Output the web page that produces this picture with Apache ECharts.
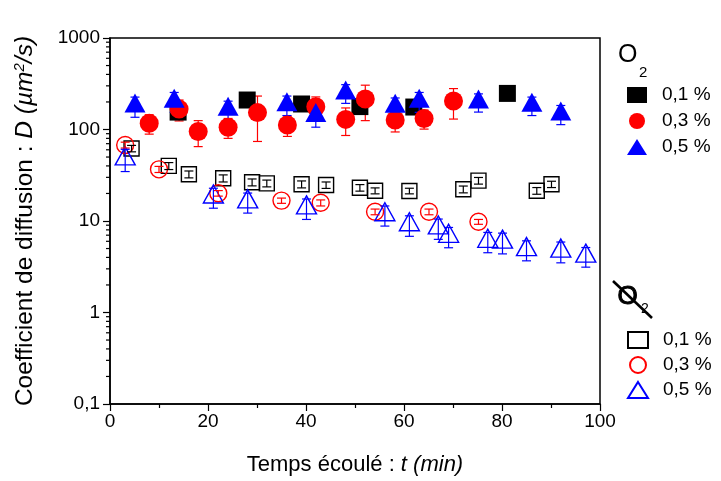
<!DOCTYPE html>
<html>
<head>
<meta charset="utf-8">
<script src="https://cdn.jsdelivr.net/npm/echarts@6/dist/echarts.min.js"></script>
<style>html,body{margin:0;padding:0;background:#fff}#c{width:721px;height:481px}</style>
</head>
<body>
<div id="c"></div>
<script>
// ---- Data ----
// With O2 (filled markers)
const t_sq_f = [13.9, 28, 39.1, 51, 62, 81.1];
const D_sq_f = [155, 210, 190, 178, 176, 248];
const e_sq_f = [20, 10, 10, 20, 20, 10];

const t_ci_f = [8, 14.1, 18, 24.1, 30.1, 36.2, 42, 48.1, 52.1, 58.2, 64.1, 70.1];
const D_ci_f = [117, 167, 95, 106, 153, 112, 177, 129, 215, 127, 132, 205];
const e_ci_f = [28, 43, 30, 26, 79, 28, 50, 43, 90, 33, 31, 75];

// triangle values are read at the triangle's centroid
const t_tr_f = [5.1, 13.1, 24.1, 36.1, 42, 48.1, 58.2, 63.1, 75.2, 86.1, 92];
const D_tr_f = [181, 204, 166, 187, 142, 251, 179, 204, 200, 184, 148];
const e_tr_f = [45, 50, 38, 45, 36, 58, 42, 50, 45, 42, 35];

// Without O2 (open markers)
const t_sq_o = [4.4, 12, 16.1, 23.1, 29, 32, 39.1, 44.1, 51, 54.1, 61.1, 72.1, 75.2, 87.1, 90.1];
const D_sq_o = [62, 40, 32.4, 29.3, 26.5, 25.8, 25.2, 24.7, 23.1, 21.4, 21.3, 22.2, 27.6, 21.4, 25.2];
const e_sq_o = [5, 3.5, 2.8, 2.6, 2.3, 2.2, 2.2, 2, 1.9, 1.6, 1.5, 1.9, 2.3, 1.8, 2];

const t_ci_o = [3.1, 10, 22.1, 35, 43, 54.1, 65.1, 75.2];
const D_ci_o = [67.7, 36.7, 20.1, 16.7, 15.8, 12.6, 12.6, 9.8];
const e_ci_o = [5, 2.8, 1.4, 1.1, 1.2, 0.9, 0.9, 0.6];

const t_tr_o = [3.1, 21.1, 28.1, 40.1, 56.1, 61.1, 67, 69.1, 77.1, 80.1, 85, 92, 97.1];
const D_tr_o = [47.7, 18.3, 16.2, 13.9, 11.7, 9.1, 8.4, 6.8, 6.0, 5.87, 4.87, 4.69, 4.13];
const e_tr_o = [13, 4.5, 4, 3.5, 2.9, 2.3, 2.1, 1.7, 1.5, 1.5, 1.2, 1.2, 1.0];

const legendLabels = ['0,1 %', '0,3 %', '0,5 %'];
const yTickLabels = {0.1: '0,1', 1: '1', 10: '10', 100: '100', 1000: '1000'};

// ---- Build ----
const FONT = '"Liberation Sans", Arial, sans-serif';
function pts(t, D) { return t.map((x, i) => [x, D[i]]); }
function errPts(t, D, e) { return t.map((x, i) => [x, D[i], e[i]]); }

function errSeries(t, D, e, color, z) {
  return {
    type: 'custom', silent: true, z: z, clip: false,
    data: errPts(t, D, e),
    renderItem: function (params, api) {
      const x = api.value(0), y = api.value(1), e = api.value(2);
      const top = api.coord([x, y + e]);
      const bot = api.coord([x, Math.max(y - e, 1e-4)]);
      const hw = 4.5;
      const st = { stroke: color, lineWidth: 1.2, fill: null };
      return {
        type: 'group', children: [
          { type: 'line', shape: { x1: top[0], y1: top[1], x2: bot[0], y2: bot[1] }, style: st },
          { type: 'line', shape: { x1: top[0] - hw, y1: top[1], x2: top[0] + hw, y2: top[1] }, style: st },
          { type: 'line', shape: { x1: bot[0] - hw, y1: bot[1], x2: bot[0] + hw, y2: bot[1] }, style: st }
        ]
      };
    }
  };
}

// minor ticks of the log axis (2..9 in each decade), drawn at axis position
const minorVals = [];
[0.1, 1, 10, 100].forEach(d => { for (let k = 2; k <= 9; k++) minorVals.push([0, d * k]); });

const series = [
  errSeries(t_sq_f, D_sq_f, e_sq_f, '#000', 1),
  errSeries(t_ci_f, D_ci_f, e_ci_f, '#ff0000', 2),
  errSeries(t_tr_f, D_tr_f, e_tr_f, '#0000ff', 3),
  { name: 'f1', type: 'scatter', data: pts(t_sq_f, D_sq_f), symbol: 'rect', symbolSize: 17, symbolKeepAspect: true,
    itemStyle: { color: '#000', opacity: 1 }, z: 2 },
  { name: 'f3', type: 'scatter', data: pts(t_ci_f, D_ci_f), symbol: 'circle', symbolSize: 19,
    itemStyle: { color: '#ff0000', opacity: 1 }, z: 3 },
  { name: 'f5', type: 'scatter', data: pts(t_tr_f, D_tr_f), symbol: 'triangle', symbolSize: [21, 19], symbolOffset: [0, -3],
    itemStyle: { color: '#0000ff', opacity: 1 }, z: 4 },
  { name: 'o1', type: 'scatter', data: pts(t_sq_o, D_sq_o), symbol: 'rect', symbolSize: 15, symbolKeepAspect: true,
    itemStyle: { color: 'rgba(255,255,255,0)', borderColor: '#000', borderWidth: 1.4, opacity: 1 }, z: 2 },
  { name: 'o3', type: 'scatter', data: pts(t_ci_o, D_ci_o), symbol: 'circle', symbolSize: 17,
    itemStyle: { color: 'rgba(255,255,255,0)', borderColor: '#ff0000', borderWidth: 1.4, opacity: 1 }, z: 3 },
  { name: 'o5', type: 'scatter', data: pts(t_tr_o, D_tr_o), symbol: 'triangle', symbolSize: [20, 18], symbolOffset: [0, -3],
    itemStyle: { color: 'rgba(255,255,255,0)', borderColor: '#0000ff', borderWidth: 1.4, opacity: 1 }, z: 4 },
  errSeries(t_sq_o, D_sq_o, e_sq_o, '#000', 5),
  errSeries(t_ci_o, D_ci_o, e_ci_o, '#ff0000', 5),
  errSeries(t_tr_o, D_tr_o, e_tr_o, '#0000ff', 5),
  {
    type: 'custom', silent: true, clip: false, z: 6, data: minorVals,
    renderItem: function (params, api) {
      const p = api.coord([0, api.value(1)]);
      return { type: 'line', shape: { x1: p[0] - 4, y1: p[1], x2: p[0], y2: p[1] },
        style: { stroke: '#000', lineWidth: 1.2 } };
    }
  }
];

const nameMap = { f1: legendLabels[0], f3: legendLabels[1], f5: legendLabels[2],
                  o1: legendLabels[0], o3: legendLabels[1], o5: legendLabels[2] };

const legendCommon = {
  orient: 'vertical', itemWidth: 20, itemHeight: 16, selectedMode: false,
  formatter: n => nameMap[n],
  textStyle: { fontFamily: FONT, fontSize: 19, color: '#000', lineHeight: 20, padding: [0, 0, 0, 10] }
};

const option = {
  backgroundColor: '#fff',
  animation: false,
  grid: { left: 110, right: 121, top: 38, bottom: 77, show: true, borderColor: '#000', borderWidth: 1.5, containLabel: false },
  xAxis: {
    type: 'value', min: 0, max: 100, interval: 20,
    name: 'Temps écoulé : {i|t (min)}', nameLocation: 'middle', nameGap: 50,
    nameTextStyle: { fontFamily: FONT, fontSize: 22, color: '#000',
      rich: { i: { fontFamily: FONT, fontSize: 22, fontStyle: 'italic', color: '#000' } } },
    axisLine: { show: true, lineStyle: { color: '#000', width: 1.5 } },
    axisTick: { show: true, inside: false, length: 7, lineStyle: { color: '#000', width: 1.2 } },
    minorTick: { show: true, splitNumber: 2, length: 4, lineStyle: { color: '#000', width: 1.2 } },
    axisLabel: { fontFamily: FONT, fontSize: 19, color: '#000', margin: 8 },
    splitLine: { show: false }
  },
  yAxis: {
    type: 'log', logBase: 10, min: 0.1, max: 1000,
    name: 'Coefficient de diffusion : {i|D (µm}{s|2}{i|/s)}', nameLocation: 'middle', nameGap: 72,
    nameTextStyle: { fontFamily: FONT, fontSize: 24.5, color: '#000',
      rich: { i: { fontFamily: FONT, fontSize: 24.5, fontStyle: 'italic', color: '#000' },
              s: { fontFamily: FONT, fontSize: 15, fontStyle: 'italic', color: '#000', verticalAlign: 'top', padding: [0, 0, 11, 0] } } },
    axisLine: { show: true, lineStyle: { color: '#000', width: 1.5 } },
    axisTick: { show: true, inside: false, length: 7, lineStyle: { color: '#000', width: 1.2 } },
    axisLabel: { fontFamily: FONT, fontSize: 19, color: '#000', margin: 10,
      formatter: v => (yTickLabels[v] !== undefined ? yTickLabels[v] : String(v).replace('.', ',')) },
    splitLine: { show: false }
  },
  legend: [
    Object.assign({}, legendCommon, { data: ['f1', 'f3', 'f5'], left: 622, top: 80, itemGap: 6 }),
    Object.assign({}, legendCommon, { data: ['o1', 'o3', 'o5'], left: 622, top: 325, itemGap: 5 })
  ],
  graphic: [
    { type: 'text', left: 618, top: 43, style: { text: 'O', fontFamily: FONT, fontSize: 25, fill: '#000' } },
    { type: 'text', left: 639, top: 65, style: { text: '2', fontFamily: FONT, fontSize: 15, fill: '#000' } },
    { type: 'text', left: 617, top: 283, style: { text: 'O', fontFamily: FONT, fontSize: 26, fill: '#000', stroke: '#000', lineWidth: 1 } },
    { type: 'text', left: 641, top: 302, style: { text: '2', fontFamily: FONT, fontSize: 14, fill: '#000' } },
    { type: 'line', shape: { x1: 613, y1: 281, x2: 652, y2: 318 }, style: { stroke: '#000', lineWidth: 2.6 } }
  ],
  series: series
};

const chart = echarts.init(document.getElementById('c'), null, { renderer: 'canvas' });
chart.setOption(option);
</script>
</body>
</html>
